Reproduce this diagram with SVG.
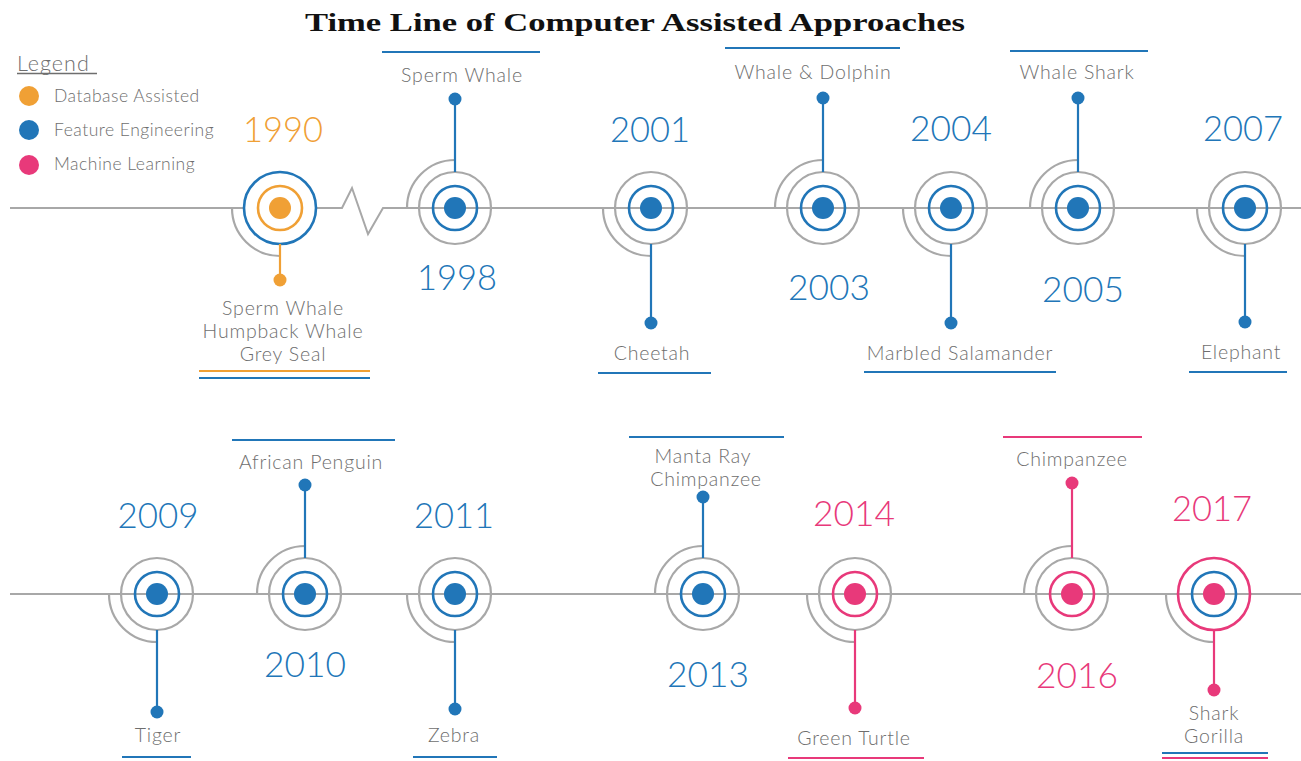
<svg xmlns="http://www.w3.org/2000/svg" width="1301" height="761" viewBox="0 0 1301 761">
<style>
.bg{fill:#ffffff}
.title{font-family:"Liberation Serif","DejaVu Serif",serif;font-weight:bold;font-size:26px;fill:#111}
.lbl{font-family:Lato,"Liberation Sans",sans-serif;font-weight:300;font-size:19.5px;letter-spacing:0.8px;fill:#6e6e6e;text-anchor:middle}
.leg{font-family:Lato,"Liberation Sans",sans-serif;font-weight:300;font-size:17.5px;letter-spacing:0.5px;fill:#6e6e6e}
.yr{font-family:Lato,"Liberation Sans",sans-serif;font-weight:300;font-size:36px;text-anchor:middle}
.yb{fill:#2176b8}.yo{fill:#f0a035}.yp{fill:#e8397a}
.tl{fill:none;stroke:#a8a8a8;stroke-width:2}
.g{fill:none;stroke:#a8a8a8;stroke-width:2.2}
.rb{fill:none;stroke:#2176b8;stroke-width:2.6}
.ro{fill:none;stroke:#f0a035;stroke-width:2.6}
.rp{fill:none;stroke:#e8397a;stroke-width:2.6}
.sb{stroke:#2176b8;stroke-width:2.2}
.so{stroke:#f0a035;stroke-width:2.2}
.sp{stroke:#e8397a;stroke-width:2.2}
.ub{stroke:#2176b8;stroke-width:2.2}
.uo{stroke:#f0a035;stroke-width:2.2}
.up{stroke:#e8397a;stroke-width:2.2}
.fb{fill:#2176b8}.fo{fill:#f0a035}.fp{fill:#e8397a}
</style>
<rect class="bg" x="0" y="0" width="1301" height="761"/>
<text class="title" x="635" y="31" text-anchor="middle" textLength="660" lengthAdjust="spacingAndGlyphs">Time Line of Computer Assisted Approaches</text>

<g id="legend">
<text class="leg" x="17" y="71" style="font-size:21.5px;letter-spacing:1px">Legend</text>
<line x1="17" y1="73.5" x2="97" y2="73.5" stroke="#6e6e6e" stroke-width="1.3"/>
<circle cx="29" cy="96" r="10" class="fo"/>
<text class="leg" x="54" y="102">Database Assisted</text>
<circle cx="29" cy="130" r="10" class="fb"/>
<text class="leg" x="54" y="136">Feature Engineering</text>
<circle cx="29" cy="165" r="10" class="fp"/>
<text class="leg" x="54" y="170">Machine Learning</text>
</g>

<g id="connectors">
<polyline class="tl" points="10,208 342,208 352,188 368,234 383,208 1301,208"/>
<line class="tl" x1="10" y1="594" x2="1301" y2="594"/>
</g>

<g id="n1990">
<path class="g" d="M232,208 A48,48 0 0 0 280,256"/>
<circle class="rb" cx="280" cy="208" r="36" style="fill:#fff"/>
<circle class="ro" cx="280" cy="208" r="22"/>
<circle class="fo" cx="280" cy="208" r="11"/>
<line class="so" x1="280" y1="244" x2="280" y2="280"/>
<circle class="fo" cx="280" cy="280" r="6.5"/>
<text class="yr yo" x="283" y="142" textLength="80" lengthAdjust="spacingAndGlyphs">1990</text>
<text class="lbl" x="283" y="315">Sperm Whale</text>
<text class="lbl" x="283" y="338">Humpback Whale</text>
<text class="lbl" x="283" y="361">Grey Seal</text>
<line class="uo" x1="199" y1="371" x2="370" y2="371"/>
<line class="ub" x1="199" y1="378" x2="370" y2="378"/>
</g>

<g id="n1998">
<path class="g" d="M407,208 A48,48 0 0 1 455,160"/>
<circle class="g" cx="455" cy="208" r="36"/>
<circle class="rb" cx="455" cy="208" r="22"/>
<circle class="fb" cx="455" cy="208" r="11"/>
<line class="sb" x1="455" y1="172" x2="455" y2="99"/>
<circle class="fb" cx="455" cy="99" r="6.5"/>
<text class="yr yb" x="457" y="290" textLength="80" lengthAdjust="spacingAndGlyphs">1998</text>
<text class="lbl" x="462" y="82">Sperm Whale</text>
<line class="ub" x1="382" y1="52" x2="540" y2="52"/>
</g>

<g id="n2001">
<path class="g" d="M603,208 A48,48 0 0 0 651,256"/>
<circle class="g" cx="651" cy="208" r="36"/>
<circle class="rb" cx="651" cy="208" r="22"/>
<circle class="fb" cx="651" cy="208" r="11"/>
<line class="sb" x1="651" y1="244" x2="651" y2="323"/>
<circle class="fb" cx="651" cy="323" r="6.5"/>
<text class="yr yb" x="650" y="142" textLength="80" lengthAdjust="spacingAndGlyphs">2001</text>
<text class="lbl" x="652" y="360">Cheetah</text>
<line class="ub" x1="598" y1="373" x2="711" y2="373"/>
</g>

<g id="n2003">
<path class="g" d="M775,208 A48,48 0 0 1 823,160"/>
<circle class="g" cx="823" cy="208" r="36"/>
<circle class="rb" cx="823" cy="208" r="22"/>
<circle class="fb" cx="823" cy="208" r="11"/>
<line class="sb" x1="823" y1="172" x2="823" y2="98"/>
<circle class="fb" cx="823" cy="98" r="6.5"/>
<text class="yr yb" x="829" y="300" textLength="82" lengthAdjust="spacingAndGlyphs">2003</text>
<text class="lbl" x="813" y="79">Whale &amp; Dolphin</text>
<line class="ub" x1="725" y1="48" x2="900" y2="48"/>
</g>

<g id="n2004">
<path class="g" d="M903,208 A48,48 0 0 0 951,256"/>
<circle class="g" cx="951" cy="208" r="36"/>
<circle class="rb" cx="951" cy="208" r="22"/>
<circle class="fb" cx="951" cy="208" r="11"/>
<line class="sb" x1="951" y1="244" x2="951" y2="323"/>
<circle class="fb" cx="951" cy="323" r="6.5"/>
<text class="yr yb" x="951" y="141" textLength="82" lengthAdjust="spacingAndGlyphs">2004</text>
<text class="lbl" x="960" y="360">Marbled Salamander</text>
<line class="ub" x1="864" y1="372" x2="1056" y2="372"/>
</g>

<g id="n2005">
<path class="g" d="M1030,208 A48,48 0 0 1 1078,160"/>
<circle class="g" cx="1078" cy="208" r="36"/>
<circle class="rb" cx="1078" cy="208" r="22"/>
<circle class="fb" cx="1078" cy="208" r="11"/>
<line class="sb" x1="1078" y1="172" x2="1078" y2="98"/>
<circle class="fb" cx="1078" cy="98" r="6.5"/>
<text class="yr yb" x="1083" y="302" textLength="82" lengthAdjust="spacingAndGlyphs">2005</text>
<text class="lbl" x="1077" y="79">Whale Shark</text>
<line class="ub" x1="1010" y1="51" x2="1148" y2="51"/>
</g>

<g id="n2007">
<path class="g" d="M1197,208 A48,48 0 0 0 1245,256"/>
<circle class="g" cx="1245" cy="208" r="36"/>
<circle class="rb" cx="1245" cy="208" r="22"/>
<circle class="fb" cx="1245" cy="208" r="11"/>
<line class="sb" x1="1245" y1="244" x2="1245" y2="322"/>
<circle class="fb" cx="1245" cy="322" r="6.5"/>
<text class="yr yb" x="1243" y="141" textLength="80" lengthAdjust="spacingAndGlyphs">2007</text>
<text class="lbl" x="1241" y="359">Elephant</text>
<line class="ub" x1="1189" y1="372" x2="1287" y2="372"/>
</g>

<g id="n2009">
<path class="g" d="M109,594 A48,48 0 0 0 157,642"/>
<circle class="g" cx="157" cy="594" r="36"/>
<circle class="rb" cx="157" cy="594" r="22"/>
<circle class="fb" cx="157" cy="594" r="11"/>
<line class="sb" x1="157" y1="630" x2="157" y2="712"/>
<circle class="fb" cx="157" cy="712" r="6.5"/>
<text class="yr yb" x="158" y="528" textLength="81" lengthAdjust="spacingAndGlyphs">2009</text>
<text class="lbl" x="158" y="742">Tiger</text>
<line class="ub" x1="122" y1="757" x2="191" y2="757"/>
</g>

<g id="n2010">
<path class="g" d="M257,594 A48,48 0 0 1 305,546"/>
<circle class="g" cx="305" cy="594" r="36"/>
<circle class="rb" cx="305" cy="594" r="22"/>
<circle class="fb" cx="305" cy="594" r="11"/>
<line class="sb" x1="305" y1="558" x2="305" y2="485"/>
<circle class="fb" cx="305" cy="485" r="6.5"/>
<text class="yr yb" x="305" y="677" textLength="82" lengthAdjust="spacingAndGlyphs">2010</text>
<text class="lbl" x="311" y="469">African Penguin</text>
<line class="ub" x1="232" y1="440" x2="395" y2="440"/>
</g>

<g id="n2011">
<path class="g" d="M407,594 A48,48 0 0 0 455,642"/>
<circle class="g" cx="455" cy="594" r="36"/>
<circle class="rb" cx="455" cy="594" r="22"/>
<circle class="fb" cx="455" cy="594" r="11"/>
<line class="sb" x1="455" y1="630" x2="455" y2="709"/>
<circle class="fb" cx="455" cy="709" r="6.5"/>
<text class="yr yb" x="454" y="528" textLength="80" lengthAdjust="spacingAndGlyphs">2011</text>
<text class="lbl" x="454" y="742">Zebra</text>
<line class="ub" x1="413" y1="757" x2="497" y2="757"/>
</g>

<g id="n2013">
<path class="g" d="M655,594 A48,48 0 0 1 703,546"/>
<circle class="g" cx="703" cy="594" r="36"/>
<circle class="rb" cx="703" cy="594" r="22"/>
<circle class="fb" cx="703" cy="594" r="11"/>
<line class="sb" x1="703" y1="558" x2="703" y2="497"/>
<circle class="fb" cx="703" cy="497" r="6.5"/>
<text class="yr yb" x="708" y="687" textLength="82" lengthAdjust="spacingAndGlyphs">2013</text>
<text class="lbl" x="703" y="463">Manta Ray</text>
<text class="lbl" x="706" y="486">Chimpanzee</text>
<line class="ub" x1="629" y1="437" x2="784" y2="437"/>
</g>

<g id="n2014">
<path class="g" d="M807,594 A48,48 0 0 0 855,642"/>
<circle class="g" cx="855" cy="594" r="36"/>
<circle class="rp" cx="855" cy="594" r="22"/>
<circle class="fp" cx="855" cy="594" r="11"/>
<line class="sp" x1="855" y1="630" x2="855" y2="708"/>
<circle class="fp" cx="855" cy="708" r="6.5"/>
<text class="yr yp" x="854" y="526" textLength="82" lengthAdjust="spacingAndGlyphs">2014</text>
<text class="lbl" x="854" y="745">Green Turtle</text>
<line class="up" x1="788" y1="758" x2="924" y2="758"/>
</g>

<g id="n2016">
<path class="g" d="M1024,594 A48,48 0 0 1 1072,546"/>
<circle class="g" cx="1072" cy="594" r="36"/>
<circle class="rp" cx="1072" cy="594" r="22"/>
<circle class="fp" cx="1072" cy="594" r="11"/>
<line class="sp" x1="1072" y1="558" x2="1072" y2="483"/>
<circle class="fp" cx="1072" cy="483" r="6.5"/>
<text class="yr yp" x="1077" y="688" textLength="82" lengthAdjust="spacingAndGlyphs">2016</text>
<text class="lbl" x="1072" y="466">Chimpanzee</text>
<line class="up" x1="1003" y1="437" x2="1142" y2="437"/>
</g>

<g id="n2017">
<path class="g" d="M1166,594 A48,48 0 0 0 1214,642"/>
<circle class="rp" cx="1214" cy="594" r="36"/>
<circle class="rb" cx="1214" cy="594" r="22"/>
<circle class="fp" cx="1214" cy="594" r="11"/>
<line class="sp" x1="1214" y1="630" x2="1214" y2="690"/>
<circle class="fp" cx="1214" cy="690" r="6.5"/>
<text class="yr yp" x="1212" y="521" textLength="80" lengthAdjust="spacingAndGlyphs">2017</text>
<text class="lbl" x="1214" y="720">Shark</text>
<text class="lbl" x="1214" y="743">Gorilla</text>
<line class="ub" x1="1162" y1="753" x2="1268" y2="753"/>
<line class="up" x1="1162" y1="758" x2="1268" y2="758"/>
</g>
</svg>
